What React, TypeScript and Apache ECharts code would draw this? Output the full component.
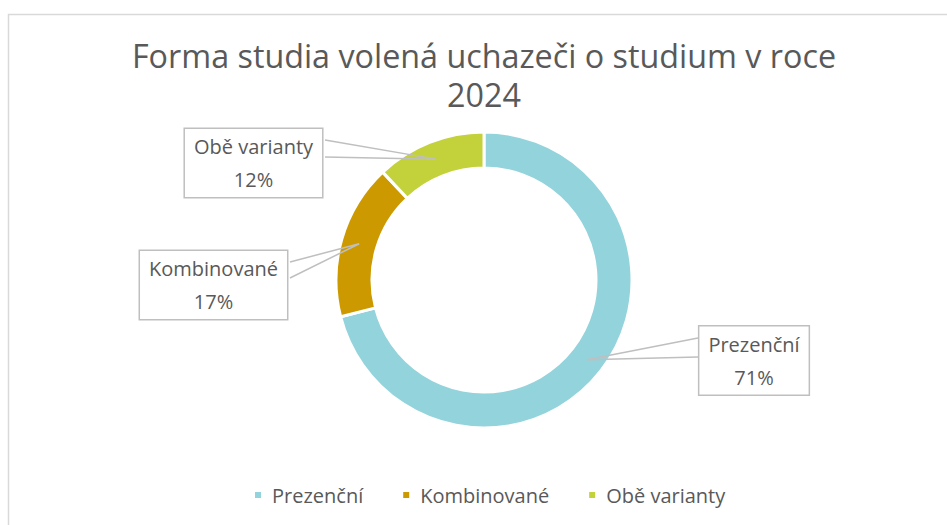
import React, { useEffect, useRef } from "react";
import * as echarts from "echarts";

const categories = ["Prezenční", "Kombinované", "Obě varianty"];
const shares = [71, 17, 12];
const colors = ["#93D3DC", "#CC9A00", "#C3D13B"];

const titleLines = ["Forma studia volená uchazeči o studium v roce", "2024"];

// layout of the callout boxes (centre) and the wedge base on the box edge
const calloutLayout = [
  { cx: 754, cy: 360.5, baseX: 698, baseY0: 338, baseY1: 357 },
  { cx: 213.5, cy: 285, baseX: 290, baseY0: 262, baseY1: 278 },
  { cx: 253.5, cy: 163, baseX: 325, baseY0: 140, baseY1: 157 },
];

const CENTER: [number, number] = [484, 280];
const R_IN = 112;
const R_OUT = 148;
const FONT = "'Open Sans', 'Noto Sans', sans-serif";
const TEXT = "#595959";

export default function App() {
  const ref = useRef<HTMLDivElement>(null);
  useEffect(() => {
    if (!ref.current) return;
    const chart = echarts.init(ref.current, undefined, { renderer: "svg" });
    const total = shares.reduce((a, b) => a + b, 0);
    const cum: number[] = [];
    shares.reduce((acc, v, i) => {
      cum[i] = acc;
      return acc + v;
    }, 0);
    const rm = (R_IN + R_OUT) / 2;
    const tipOf = (i: number) => {
      const a = ((cum[i] + shares[i] / 2) / total) * Math.PI * 2;
      return [CENTER[0] + rm * Math.sin(a), CENTER[1] - rm * Math.cos(a)];
    };

    chart.setOption({
      animation: false,
      backgroundColor: "#ffffff",
      textStyle: { fontFamily: FONT },
      title: {
        text: titleLines.join("\n"),
        left: 479,
        textAlign: "center",
        top: 30,
        textStyle: {
          fontFamily: FONT,
          fontSize: 32.3,
          fontWeight: "normal",
          color: TEXT,
          lineHeight: 39,
        },
      },
      graphic: [
        {
          type: "rect",
          silent: true,
          z: -1,
          shape: { x: 8.5, y: 14.5, width: 1000, height: 600 },
          style: { fill: "none", stroke: "#D9D9D9", lineWidth: 1.5 },
        },
      ],
      legend: {
        top: 480,
        left: 248,
        icon: "rect",
        itemWidth: 8,
        itemHeight: 8,
        itemGap: 38,
        textStyle: { fontFamily: FONT, fontSize: 20, color: TEXT, padding: [0, 0, 0, 5] },
        data: categories,
      },
      series: [
        {
          type: "pie",
          z: 2,
          center: CENTER,
          radius: [R_IN, R_OUT],
          startAngle: 90,
          clockwise: true,
          itemStyle: { borderColor: "#ffffff", borderWidth: 3 },
          emphasis: { disabled: true },
          label: { show: false },
          labelLine: { show: false },
          data: categories.map((name, i) => ({
            name,
            value: shares[i],
            itemStyle: { color: colors[i] },
          })),
        },
        {
          type: "pie",
          z: 5,
          silent: true,
          center: CENTER,
          radius: [R_IN, R_OUT],
          startAngle: 90,
          clockwise: true,
          itemStyle: { color: "rgba(0,0,0,0)", borderWidth: 0 },
          emphasis: { disabled: true },
          label: {
            show: true,
            position: "outside",
            formatter: (p: any) => `${p.name}\n${p.value}%`,
            fontFamily: FONT,
            fontSize: 20,
            lineHeight: 33,
            color: TEXT,
            align: "center",
            backgroundColor: "#ffffff",
            borderColor: "#BFBFBF",
            borderWidth: 1.5,
            padding: [1, 9, 1, 9],
          },
          labelLine: {
            show: true,
            lineStyle: { color: "#BFBFBF", width: 1.5 },
          },
          labelLayout: (params: any) => {
            const i = params.dataIndex;
            const L = calloutLayout[i];
            const tip = tipOf(i);
            return {
              x: L.cx,
              y: L.cy,
              align: "center",
              verticalAlign: "middle",
              labelLinePoints: [
                [L.baseX, L.baseY0],
                tip,
                [L.baseX, L.baseY1],
              ],
            };
          },
          data: categories.map((name, i) => ({
            name,
            value: shares[i],
            itemStyle: { color: "rgba(0,0,0,0)" },
          })),
        },
      ],
    });
    return () => chart.dispose();
  }, []);
  return (
    <div
      ref={ref}
      style={{ position: "absolute", left: 0, top: 0, width: 947, height: 525 }}
    />
  );
}
